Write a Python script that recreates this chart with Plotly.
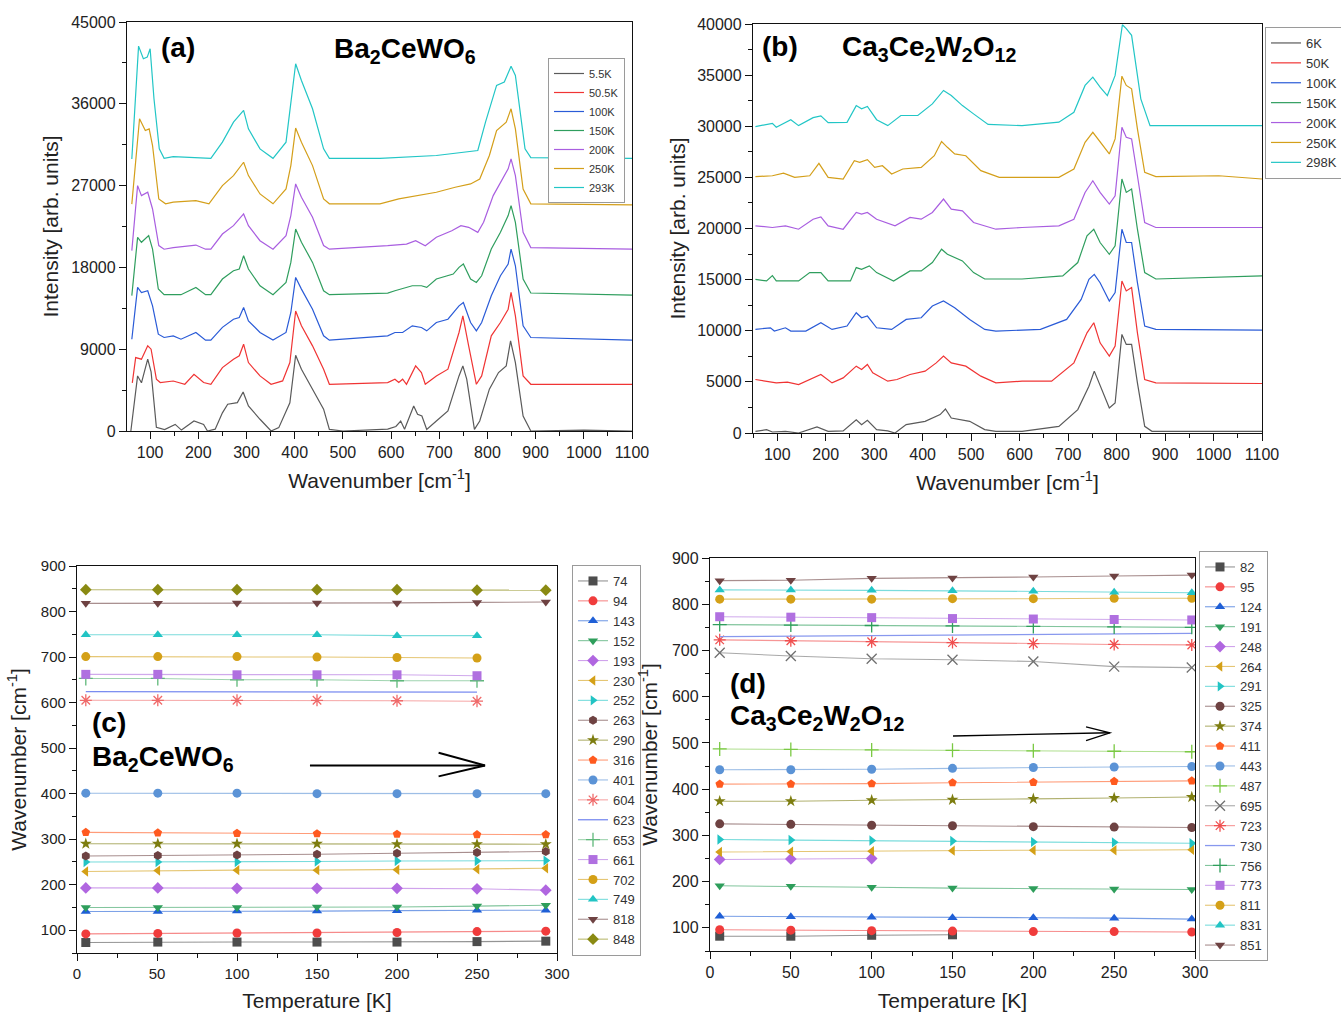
import plotly.graph_objects as go

FONT = "Liberation Sans, Arial, Helvetica, sans-serif"
W, H = 1341, 1014

# ---------------- Panel (a): Ba2CeWO6 Raman spectra ----------------
a_labels = ["5.5K", "50.5K", "100K", "150K", "200K", "250K", "293K"]

a_wn_1 = [60, 66, 74, 82, 95, 102, 113, 130, 152, 165, 191, 211, 219, 235, 250, 261, 281, 293, 304, 328, 351, 367, 390, 402, 414, 437, 460, 472, 500, 593, 610, 620, 628, 647, 655, 664, 674, 694, 718, 741, 749, 757, 773, 784, 804, 823, 839, 848, 858, 874, 890, 1000, 1100]
a_int_1 = [0, 2500, 6060, 5300, 7900, 6500, 400, 150, 730, 100, 1100, 730, 0, 200, 2000, 2940, 3120, 4300, 2750, 1290, 0, 370, 3100, 8340, 6800, 4600, 2400, 180, 0, 200, 500, 1100, 200, 2750, 1840, 1650, 180, 1100, 2200, 6060, 7160, 5700, 180, 1100, 4600, 6430, 7160, 9920, 7530, 1650, 0, 100, 0]

a_wn_2 = [63, 70, 82, 95, 102, 113, 121, 148, 172, 191, 211, 226, 250, 273, 285, 294, 304, 328, 351, 375, 390, 402, 414, 437, 460, 472, 593, 608, 616, 624, 632, 651, 663, 671, 694, 718, 741, 749, 761, 777, 788, 808, 827, 843, 849, 858, 874, 890, 1100]
a_int_2 = [5300, 8080, 7900, 9370, 9000, 5700, 5330, 5500, 5140, 6240, 5330, 5140, 6980, 7900, 8270, 9550, 7530, 6060, 5140, 5510, 7530, 13200, 11570, 9370, 6800, 5140, 5330, 5700, 5330, 5700, 5140, 7160, 6430, 5140, 6060, 6800, 10840, 12670, 9370, 5140, 6060, 10470, 11940, 13400, 15250, 12670, 6060, 5140, 5140]

a_wn_3 = [62, 74, 82, 95, 105, 117, 129, 148, 164, 195, 215, 226, 250, 273, 285, 294, 304, 328, 355, 382, 392, 402, 414, 437, 460, 472, 593, 608, 624, 644, 663, 674, 694, 718, 741, 750, 765, 777, 788, 808, 827, 843, 849, 858, 874, 890, 1100]
a_int_3 = [10100, 15800, 15240, 15430, 13770, 10650, 10290, 10470, 10100, 10840, 10000, 10000, 11400, 12300, 12490, 13600, 12120, 10840, 10000, 10840, 13040, 16900, 15610, 13400, 10470, 10000, 10470, 10840, 10840, 11570, 11390, 11020, 11940, 12300, 13770, 14140, 11940, 11020, 11940, 14880, 17080, 18370, 20020, 18180, 11570, 10290, 10000]

a_wn_4 = [62, 74, 82, 97, 105, 117, 129, 164, 195, 215, 226, 250, 273, 285, 294, 304, 328, 355, 382, 392, 402, 414, 437, 460, 472, 593, 608, 644, 663, 674, 694, 718, 729, 741, 750, 765, 777, 788, 808, 827, 843, 849, 858, 874, 890, 1100]
a_int_4 = [14900, 21310, 20760, 21490, 20020, 15620, 15000, 15000, 15800, 15000, 15000, 16720, 17630, 17820, 19290, 17820, 15980, 15000, 16350, 18550, 22220, 20760, 18550, 15430, 15000, 15180, 15430, 15980, 15980, 15800, 16720, 17080, 17270, 18000, 18370, 16720, 16350, 17080, 20020, 21860, 23700, 24800, 22960, 16720, 15180, 14960]

a_wn_5 = [62, 74, 82, 95, 105, 118, 129, 148, 195, 215, 226, 250, 273, 294, 304, 328, 355, 382, 392, 402, 414, 437, 460, 472, 593, 632, 651, 671, 694, 726, 745, 761, 780, 792, 812, 831, 843, 849, 858, 874, 890, 1100]
a_int_5 = [19850, 27000, 25900, 26270, 24430, 20400, 20000, 20180, 20460, 20000, 20000, 21670, 22590, 23880, 22590, 20940, 20000, 21490, 23700, 27180, 25710, 23510, 20400, 20000, 20390, 20570, 20940, 20390, 21310, 22040, 22590, 22410, 21860, 22960, 25900, 27730, 28840, 29940, 28100, 21860, 20180, 20000]

a_wn_6 = [62, 78, 90, 98, 105, 118, 132, 148, 195, 222, 250, 273, 294, 304, 328, 355, 382, 392, 402, 414, 437, 460, 472, 577, 616, 655, 694, 733, 765, 784, 804, 819, 839, 849, 858, 874, 890, 1100]
a_int_6 = [24960, 34350, 33060, 33240, 31410, 25530, 25000, 25180, 25350, 25000, 27000, 28100, 29570, 28100, 26080, 25000, 26630, 29200, 33330, 31780, 29200, 25530, 25000, 25000, 25530, 25900, 26270, 26820, 27180, 27730, 30310, 33060, 33980, 35450, 33240, 26630, 25000, 24890]

a_wn_7 = [62, 76, 86, 94, 100, 108, 119, 129, 148, 195, 226, 250, 273, 294, 304, 328, 355, 382, 392, 402, 414, 437, 460, 472, 577, 694, 780, 796, 819, 835, 849, 858, 878, 890, 1100]
a_int_7 = [29930, 42350, 40960, 41140, 42060, 36550, 31040, 30000, 30180, 30070, 30000, 31780, 33980, 35270, 33240, 31040, 30000, 31780, 36180, 40410, 38570, 35450, 31040, 30000, 30000, 30310, 30860, 33980, 38020, 38390, 40120, 39120, 31040, 30070, 30000]

# ---------------- Panel (b): Ca3Ce2W2O12 Raman spectra ----------------
b_labels = ["6K", "50K", "100K", "150K", "200K", "250K", "298K"]

b_wn_1 = [55, 78, 90, 117, 144, 182, 205, 236, 263, 274, 286, 305, 328, 343, 366, 405, 436, 447, 459, 497, 528, 551, 605, 681, 720, 743, 754, 766, 785, 797, 811, 820, 831, 843, 858, 873, 1100]
b_int_1 = [160, 330, 100, 160, 0, 590, 160, 200, 1300, 820, 1240, 330, 200, 0, 820, 1140, 1800, 2350, 1470, 1140, 330, 160, 160, 650, 2290, 4580, 6050, 4580, 2450, 2940, 9640, 8660, 8660, 4900, 650, 160, 160]

b_wn_2 = [55, 78, 98, 121, 144, 190, 213, 236, 263, 274, 286, 297, 328, 347, 374, 405, 428, 443, 459, 489, 520, 551, 605, 666, 712, 739, 753, 766, 785, 797, 811, 820, 831, 843, 858, 881, 1100]
b_int_2 = [5230, 5070, 4900, 4970, 4740, 5720, 4900, 5390, 6540, 6210, 6700, 5880, 5070, 5230, 5720, 6050, 6860, 7520, 6860, 6540, 5560, 4900, 5070, 5070, 6860, 9800, 10780, 8820, 7520, 8500, 14870, 13890, 14220, 9800, 5230, 4900, 4840]

b_wn_3 = [55, 86, 94, 117, 128, 159, 190, 213, 244, 263, 274, 286, 305, 336, 366, 397, 420, 443, 466, 497, 528, 551, 643, 697, 727, 743, 754, 766, 785, 797, 811, 820, 831, 843, 858, 881, 1100]
b_int_3 = [10130, 10290, 9970, 10290, 9970, 9970, 10780, 10130, 10460, 11760, 11270, 11440, 10290, 10130, 11110, 11270, 12420, 12910, 12250, 11110, 10130, 9970, 10130, 11110, 13070, 15030, 15520, 14700, 12910, 13730, 19930, 18630, 18630, 14700, 10460, 10130, 10060]

b_wn_4 = [55, 78, 90, 98, 144, 167, 190, 205, 251, 263, 274, 290, 305, 340, 374, 397, 420, 439, 451, 482, 505, 528, 605, 689, 720, 739, 753, 766, 785, 797, 811, 820, 831, 843, 858, 881, 1100]
b_int_4 = [15030, 14870, 15390, 14870, 14870, 15690, 15690, 14870, 14870, 16180, 16010, 16340, 15690, 14870, 15850, 15850, 16670, 17970, 17480, 16830, 15690, 15060, 15060, 15360, 16670, 19280, 19930, 18630, 17480, 18300, 24840, 23530, 23860, 19930, 15690, 15060, 15360]

b_wn_5 = [55, 90, 117, 144, 174, 190, 205, 236, 263, 274, 286, 305, 343, 374, 397, 420, 443, 459, 482, 505, 551, 605, 681, 712, 735, 751, 766, 785, 797, 811, 820, 831, 843, 858, 881, 1100]
b_int_5 = [20260, 20100, 20260, 19930, 20910, 21140, 20260, 19930, 21570, 21400, 21570, 20910, 20260, 21080, 20910, 21570, 22880, 21900, 21730, 20590, 19930, 20100, 20260, 20910, 23530, 24670, 23530, 22390, 23200, 29900, 28920, 28760, 25160, 20590, 20100, 20100]

b_wn_6 = [55, 90, 113, 136, 167, 186, 205, 236, 259, 270, 286, 301, 317, 336, 359, 397, 424, 439, 451, 466, 489, 520, 558, 681, 712, 735, 751, 766, 785, 797, 811, 820, 831, 843, 858, 881, 1011, 1100]
b_int_6 = [25070, 25160, 25420, 25000, 25160, 26370, 25000, 24840, 26630, 26470, 26730, 25980, 26140, 25330, 25820, 25980, 27120, 28500, 27940, 27290, 27120, 25660, 25000, 25000, 25820, 28430, 29410, 28430, 27290, 28760, 34900, 33990, 33660, 29740, 25490, 25070, 25160, 24840]

b_wn_7 = [55, 90, 98, 128, 144, 174, 190, 205, 244, 263, 274, 286, 305, 328, 355, 390, 420, 443, 459, 482, 505, 535, 605, 681, 712, 735, 751, 766, 781, 797, 812, 820, 831, 850, 869, 1100]
b_int_7 = [29970, 30280, 29900, 30640, 30060, 30840, 31010, 30350, 30380, 32020, 31700, 31930, 30640, 30060, 31050, 31050, 32190, 33500, 33000, 32020, 31210, 30180, 30060, 30400, 31370, 33990, 34800, 33820, 33000, 34970, 39930, 39540, 38890, 32680, 30060, 30060]

# ---------------- Panel (c): Ba2CeWO6 mode positions vs T ----------------
c_temps = [5.5, 50.5, 100, 150, 200, 250, 293]
c_labels = ["74", "94", "143", "152", "193", "230", "252", "263", "290", "316", "401",
            "604", "623", "653", "661", "702", "749", "818", "848"]
c_74 = [73, 74, 74, 74, 74, 75, 76]
c_94 = [92, 93, 94, 94, 95, 97, 98]
c_143 = [141, 141, 142, 142, 143, 144, 144]
c_152 = [150, 150, 150, 151, 151, 153, 155]
c_193 = [193, 193, 192, 192, 192, 191, 188]
c_230 = [229, 231, 232, 232, 233, 234, 236]
c_252 = [250, 250, 250, 251, 252, 252, 253]
c_263 = [263, 264, 265, 267, 269, 271, 273]
c_290 = [290, 290, 290, 290, 289, 289, 289]
c_316 = [315, 314, 313, 312, 311, 310, 310]
c_401 = [401, 401, 401, 400, 400, 400, 400]
c_604 = [605, 605, 605, 605, 604, 603]
c_623 = [624, 624, 623, 623, 623, 623]
c_653 = [653, 653, 650, 650, 648, 648]
c_661 = [662, 662, 661, 661, 661, 659]
c_702 = [701, 701, 701, 700, 699, 698]
c_749 = [749, 749, 749, 749, 747, 747]
c_818 = [818, 818, 819, 819, 819, 820, 821]
c_848 = [848, 848, 848, 848, 848, 847, 847]

# ---------------- Panel (d): Ca3Ce2W2O12 mode positions vs T ----------------
d_temps = [6, 50, 100, 150, 200, 250, 298]
d_labels = ["82", "95", "124", "191", "248", "264", "291", "325", "374", "411", "443",
            "487", "695", "723", "730", "756", "773", "811", "831", "851"]
d_82 = [82, 82, 84, 85]
d_95 = [96, 95, 94, 93, 92, 92, 91]
d_124 = [125, 124, 123, 122, 122, 121, 119]
d_191 = [191, 190, 188, 186, 185, 184, 183]
d_248 = [248, 249, 250]
d_264 = [264, 265, 266, 267, 268, 268, 269]
d_291 = [291, 290, 289, 288, 286, 285, 283]
d_325 = [325, 324, 322, 321, 319, 318, 317]
d_374 = [374, 374, 376, 377, 379, 381, 383]
d_411 = [411, 411, 412, 414, 415, 417, 418]
d_443 = [442, 442, 443, 445, 447, 448, 449]
d_487 = [487, 486, 485, 484, 483, 482, 481]
d_695 = [695, 688, 682, 680, 676, 665, 663]
d_723 = [723, 721, 719, 717, 715, 713, 712]
d_730 = [730, 731, 732, 733, 734, 736, 737]
d_756 = [756, 755, 754, 753, 752, 751, 750]
d_773 = [773, 772, 771, 769, 768, 767, 766]
d_811 = [811, 811, 811, 812, 812, 813, 813]
d_831 = [831, 831, 830, 829, 828, 826, 825]
d_851 = [851, 852, 856, 857, 859, 861, 863]

# ---------------- styling ----------------
spec_colors = ["#5a5a5a", "#f03434", "#2a5bd7", "#2f9e5e", "#a95ee0", "#d49f1a", "#22c6c6"]

c_series = [c_74, c_94, c_143, c_152, c_193, c_230, c_252, c_263, c_290, c_316, c_401,
            c_604, c_623, c_653, c_661, c_702, c_749, c_818, c_848]
c_style = [("#4d4d4d", "square"), ("#f03c3c", "circle"), ("#1f5fd6", "triangle-up"),
           ("#2e9e5b", "triangle-down"), ("#b066e0", "diamond"), ("#d4a017", "triangle-left"),
           ("#22c4c4", "triangle-right"), ("#6e4242", "hexagon"), ("#7d7d10", "star"),
           ("#ff5a1f", "pentagon"), ("#5b93d6", "circle"), ("#f06a6a", "asterisk-open"),
           ("#7a8cf0", None), ("#5fb87a", "cross-thin-open"), ("#b070e0", "square"),
           ("#d4a017", "circle"), ("#22c4c4", "triangle-up"), ("#6e4242", "triangle-down"),
           ("#8a8a12", "diamond")]

d_series = [d_82, d_95, d_124, d_191, d_248, d_264, d_291, d_325, d_374, d_411, d_443,
            d_487, d_695, d_723, d_730, d_756, d_773, d_811, d_831, d_851]
d_style = [("#4d4d4d", "square"), ("#f03c3c", "circle"), ("#1f5fd6", "triangle-up"),
           ("#2e9e5b", "triangle-down"), ("#b066e0", "diamond"), ("#d4a017", "triangle-left"),
           ("#22c4c4", "triangle-right"), ("#6e4242", "circle"), ("#7d7d10", "star"),
           ("#ff5a1f", "pentagon"), ("#5b93d6", "circle"), ("#7ac943", "cross-thin-open"),
           ("#707070", "x-thin-open"), ("#f05050", "asterisk-open"), ("#8898ee", None),
           ("#2e9e5b", "cross-thin-open"), ("#b070e0", "square"), ("#d4a017", "circle"),
           ("#22c4c4", "triangle-up"), ("#6e4242", "triangle-down")]


def hex_rgba(h, a):
    h = h.lstrip("#")
    return "rgba(%d,%d,%d,%.2f)" % (int(h[0:2], 16), int(h[2:4], 16), int(h[4:6], 16), a)


fig = go.Figure()

a_wn = [a_wn_1, a_wn_2, a_wn_3, a_wn_4, a_wn_5, a_wn_6, a_wn_7]
a_int = [a_int_1, a_int_2, a_int_3, a_int_4, a_int_5, a_int_6, a_int_7]
for lab, xs, ys, col in zip(a_labels, a_wn, a_int, spec_colors):
    fig.add_trace(go.Scatter(x=xs, y=ys, mode="lines", name=lab, line=dict(color=col, width=1.2),
                             xaxis="x", yaxis="y", legend="legend"))

b_wn = [b_wn_1, b_wn_2, b_wn_3, b_wn_4, b_wn_5, b_wn_6, b_wn_7]
b_int = [b_int_1, b_int_2, b_int_3, b_int_4, b_int_5, b_int_6, b_int_7]
for lab, xs, ys, col in zip(b_labels, b_wn, b_int, spec_colors):
    fig.add_trace(go.Scatter(x=xs, y=ys, mode="lines", name=lab, line=dict(color=col, width=1.2),
                             xaxis="x2", yaxis="y2", legend="legend2"))


def add_modes(labels, series, styles, temps, xa, ya, leg):
    for lab, vals, (col, sym) in zip(labels, series, styles):
        tx = temps[:len(vals)]
        if sym is None:
            fig.add_trace(go.Scatter(x=tx, y=vals, mode="lines", name=lab,
                                     line=dict(color=col, width=1.3),
                                     xaxis=xa, yaxis=ya, legend=leg))
        else:
            thin = sym.endswith("-open")
            mk = dict(symbol=sym, size=9 if not thin else 10, color=col,
                      line=dict(color=col, width=1.3 if thin else 0))
            fig.add_trace(go.Scatter(x=tx, y=vals, mode="lines+markers", name=lab,
                                     line=dict(color=hex_rgba(col, 0.6), width=1.1),
                                     marker=mk, xaxis=xa, yaxis=ya, legend=leg))


add_modes(c_labels, c_series, c_style, c_temps, "x3", "y3", "legend3")
add_modes(d_labels, d_series, d_style, d_temps, "x4", "y4", "legend4")


def dom_x(p0, p1):
    return [p0 / W, p1 / W]


def dom_y(top, bottom):
    return [1 - bottom / H, 1 - top / H]


def axis(domain, rng, dtick, minor, anchor, title, tfs, standoff, tick0=0):
    return dict(domain=domain, range=rng, anchor=anchor, tick0=tick0, dtick=dtick,
                tickformat="d",
                showline=True, linecolor="#111", linewidth=1.3, mirror=True,
                ticks="outside", ticklen=7, tickwidth=1.2, tickcolor="#111",
                minor=dict(ticks="outside", ticklen=4, tickwidth=1, tickcolor="#111", dtick=minor, tick0=tick0),
                showgrid=False, zeroline=False,
                tickfont=dict(family=FONT, size=tfs, color="#222"),
                title=dict(text=title, font=dict(family=FONT, size=21, color="#222"), standoff=standoff))


wn_title = "Wavenumber [cm<sup>-1</sup>]"
legend_base = dict(xanchor="left", yanchor="top", bgcolor="white", bordercolor="#9a9a9a",
                   borderwidth=1, itemwidth=30, tracegroupgap=0)

fig.update_layout(
    width=W, height=H, paper_bgcolor="white", plot_bgcolor="white",
    margin=dict(l=0, r=0, t=0, b=0, autoexpand=False),
    font=dict(family=FONT, color="#222"),
    xaxis=axis(dom_x(127, 632), [52, 1100], 100, 50, "y", wn_title, 16, 12),
    yaxis=axis(dom_y(22, 431), [0, 45000], 9000, 4500, "x", "Intensity [arb. units]", 16, 6),
    xaxis2=axis(dom_x(753, 1262), [50, 1100], 100, 50, "y2", wn_title, 16, 12),
    yaxis2=axis(dom_y(24, 433), [0, 40000], 5000, 2500, "x2", "Intensity [arb. units]", 16, 5),
    xaxis3=axis(dom_x(77, 557), [0, 300], 50, 25, "y3", "Temperature [K]", 15, 12),
    yaxis3=axis(dom_y(566, 953), [50, 900], 100, 50, "x3", wn_title, 15, 8),
    xaxis4=axis(dom_x(710, 1195), [0, 300], 50, 25, "y4", "Temperature [K]", 16, 12),
    yaxis4=axis(dom_y(558, 951), [50, 900], 100, 50, "x4", wn_title, 16, 8),
    legend=dict(x=548 / W, y=1 - 58 / H, font=dict(family=FONT, size=11, color="#333"), **legend_base),
    legend2=dict(x=1265 / W, y=1 - 27 / H, font=dict(family=FONT, size=13, color="#333"), **legend_base),
    legend3=dict(x=572 / W, y=1 - 565 / H, font=dict(family=FONT, size=13, color="#333"), **legend_base),
    legend4=dict(x=1199 / W, y=1 - 551 / H, font=dict(family=FONT, size=13, color="#333"), **legend_base),
)

# panel labels and compound names
bold = dict(family=FONT, size=28, color="black")
notes = [
    ("<b>(a)</b>", 159, 47), ("<b>Ba<sub>2</sub>CeWO<sub>6</sub></b>", 332, 50),
    ("<b>(b)</b>", 760, 46), ("<b>Ca<sub>3</sub>Ce<sub>2</sub>W<sub>2</sub>O<sub>12</sub></b>", 840, 48),
    ("<b>(c)</b>", 90, 722), ("<b>Ba<sub>2</sub>CeWO<sub>6</sub></b>", 90, 758),
    ("<b>(d)</b>", 728, 683), ("<b>Ca<sub>3</sub>Ce<sub>2</sub>W<sub>2</sub>O<sub>12</sub></b>", 728, 717),
]
for txt, px, py in notes:
    fig.add_annotation(text=txt, x=px / W, y=1 - py / H, xref="paper", yref="paper",
                       xanchor="left", yanchor="middle", showarrow=False, font=bold)

# temperature-direction arrows (open chevron heads)
fig.add_shape(type="path", xref="x3", yref="y3", path="M 145.6 462 L 255 462",
              line=dict(color="black", width=2))
fig.add_shape(type="path", xref="x3", yref="y3", path="M 226 490 L 255 462 L 226 438",
              line=dict(color="black", width=2))
fig.add_shape(type="path", xref="x4", yref="y4", path="M 150.3 515 L 247.4 522",
              line=dict(color="black", width=1.3))
fig.add_shape(type="path", xref="x4", yref="y4", path="M 232.6 535 L 247.4 522 L 232.6 505",
              line=dict(color="black", width=1.3))

fig.write_html("out.html", config={"displayModeBar": False},
               post_script="document.body.style.margin='0px';document.body.style.overflow='hidden';")
